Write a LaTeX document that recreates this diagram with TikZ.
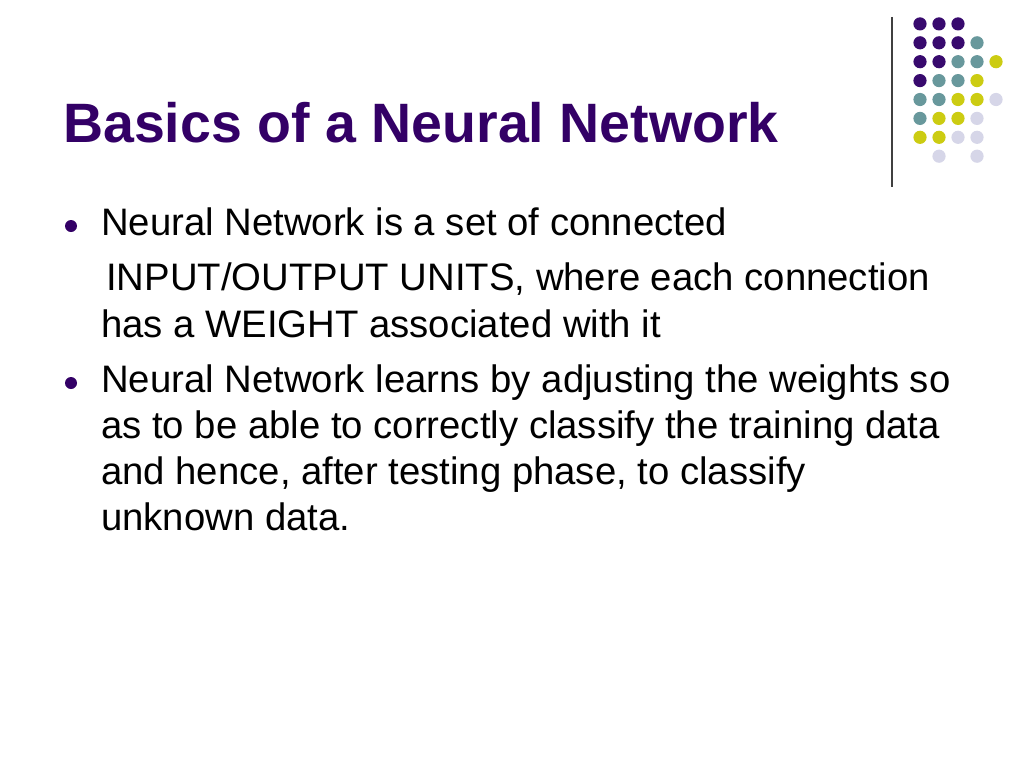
\documentclass[tikz,border=0pt]{standalone}
\usepackage{fontspec}
\setmainfont{Liberation Sans}
\definecolor{titlepurple}{RGB}{51,0,102}
\definecolor{dotpurple}{RGB}{56,10,110}
\definecolor{dotteal}{RGB}{104,152,156}
\definecolor{dotyellow}{RGB}{204,204,18}
\definecolor{dotlilac}{RGB}{214,214,232}
\tikzset{
    line/.style={anchor=base west, inner sep=0pt, font=\fontsize{38.3}{46}\selectfont},
    bulletdot/.style={circle, fill=titlepurple, inner sep=0pt, minimum size=12pt},
}
\begin{document}
\begin{tikzpicture}[x=1pt,y=-1pt]
\useasboundingbox (0,0) rectangle (1024,768);
\fill[white] (0,0) rectangle (1024,768);
\node[anchor=base west, inner sep=0pt, text=titlepurple, font=\fontsize{55.5}{64}\selectfont\bfseries] (title) at (63,142) {Basics of a Neural Network};
% dots in the top right corner
\draw[line width=1.2pt, black!75] (892,17)--(892,187);
\foreach \c/\r/\col in {1/1/dotpurple,2/1/dotpurple,3/1/dotpurple,
    1/2/dotpurple,2/2/dotpurple,3/2/dotpurple,4/2/dotteal,
    1/3/dotpurple,2/3/dotpurple,3/3/dotteal,4/3/dotteal,5/3/dotyellow,
    1/4/dotpurple,2/4/dotteal,3/4/dotteal,4/4/dotyellow,
    1/5/dotteal,2/5/dotteal,3/5/dotyellow,4/5/dotyellow,5/5/dotlilac,
    1/6/dotteal,2/6/dotyellow,3/6/dotyellow,4/6/dotlilac,
    1/7/dotyellow,2/7/dotyellow,3/7/dotlilac,4/7/dotlilac,
    2/8/dotlilac,4/8/dotlilac}
{
    \fill[\col] (901+19*\c,5+18.9*\r) circle (6.6);
}
% bullets
\node[bulletdot] (b1) at (71,226) {};
\node[bulletdot] (b2) at (71,383) {};
\node[line] (l1) at (101,235) {Neural Network is a set of connected};
\node[line] (l2) at (106,290) {INPUT/OUTPUT UNITS, where each connection};
\node[line] (l3) at (101,337) {has a WEIGHT associated with it};
\node[line] (l4) at (101,392) {Neural Network learns by adjusting the weights so};
\node[line] (l5) at (101,438) {as to be able to correctly classify the training data};
\node[line] (l6) at (101,484) {and hence, after testing phase, to classify};
\node[line] (l7) at (101,530) {unknown data.};
\end{tikzpicture}
\end{document}
